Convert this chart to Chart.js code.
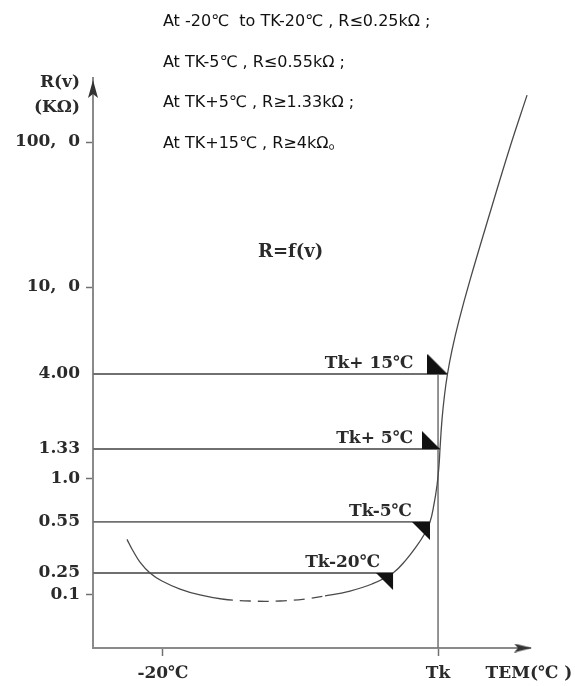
<!DOCTYPE html>
<html>
<head>
<meta charset="utf-8">
<script src="https://cdn.jsdelivr.net/npm/chart.js@4.4.1/dist/chart.umd.min.js"></script>
<style>
  html, body { margin: 0; padding: 0; background: #ffffff; overflow: hidden; }
  canvas { display: block; }
</style>
</head>
<body>
<canvas id="c" width="575" height="686"></canvas>
<script>
// ---------------- data ----------------
const TK = 120;                                  // nominal Curie temperature (schematic)
const xTickValues = [-20, TK];
const xTickLabels = ['-20℃', 'Tk', 'TEM(℃ )'];
const yTickValues = [0.1, 0.25, 0.55, 1.0, 1.33, 4.0, 10, 100];
const yTickLabels = ['0.1', '0.25', '0.55', '1.0', '1.33', '4.00', '10,  0', '100,  0'];
const yTitleLines = ['R(v)', '(KΩ)'];

// R = f(v) curve: temperature (schematic ℃) and resistance (kΩ)
const curveT = [-38.3, -35.2, -31.7, -26.6, -20.5, -11.3, -1.2, 10.0, 24.3, 39.6, 52.3, 62.5, 75.2, 86.4, 97.1,
                103.7, 108.8, 112.8, 115.9, 117.9, 119.5, 120.5, 121.0, 122.0, 123.3, 124.8, 127.1,
                130.7, 136.3, 146.4, 156.6, 165.3];
const curveR = [0.42, 0.351, 0.296, 0.25, 0.179, 0.128, 0.1, 0.084, 0.077, 0.077, 0.084, 0.096, 0.118, 0.158, 0.25,
                0.306, 0.374, 0.45, 0.55, 0.70, 0.92, 1.14, 1.33, 2.04, 2.94, 4.0, 5.15,
                7.06, 11.2, 32.4, 92, 540];
const dashedFrom = 10.0, dashedTo = 62.5;        // dashed (uncertain) part of the curve

// characteristic levels
const levelR = [0.25, 0.55, 1.33, 4.0];
const levelT = [97.1, 115.9, 121.0, 124.8];
const levelLabels = ['Tk-20℃', 'Tk-5℃', 'Tk+ 5℃', 'Tk+ 15℃'];

const notes = [
  'At -20℃  to TK-20℃ , R≤0.25kΩ ;',
  'At TK-5℃ , R≤0.55kΩ ;',
  'At TK+5℃ , R≥1.33kΩ ;',
  'At TK+15℃ , R≥4kΩ。'
];
const curveName = 'R=f(v)';

// ---------------- schematic (piecewise-log) resistance scale ----------------
class WarpScale extends Chart.LinearScale {
  static id = 'warp';
  static defaults = {};
  static anchors = [[0.01, 0], [0.1, 0.093], [0.25, 0.1316], [0.55, 0.2211], [1, 0.2965],
                    [1.33, 0.3491], [4, 0.4807], [10, 0.6333], [100, 0.8877], [1000, 1]];
  determineDataLimits() { this.min = 0.01; this.max = 1000; }
  buildTicks() { return [...yTickValues, 540].map(v => ({ value: v })); }
  _frac(v) {
    const a = WarpScale.anchors, lv = Math.log10(Math.max(v, 1e-6));
    for (let i = 1; i < a.length; i++) {
      const l0 = Math.log10(a[i - 1][0]), l1 = Math.log10(a[i][0]);
      if (lv <= l1 || i === a.length - 1) {
        return a[i - 1][1] + (lv - l0) / (l1 - l0) * (a[i][1] - a[i - 1][1]);
      }
    }
    return 1;
  }
  getPixelForValue(v) { return this.getPixelForDecimal(this._frac(v)); }
  getValueForPixel(p) {
    const f = this.getDecimalForPixel(p), a = WarpScale.anchors;
    for (let i = 1; i < a.length; i++) {
      if (f <= a[i][1] || i === a.length - 1) {
        const l0 = Math.log10(a[i - 1][0]), l1 = Math.log10(a[i][0]);
        return Math.pow(10, l0 + (f - a[i - 1][1]) / (a[i][1] - a[i - 1][1]) * (l1 - l0));
      }
    }
    return this.max;
  }
}
Chart.register(WarpScale);

// ---------------- marker images ----------------
function triangleCanvas(size, below) {
  const c = document.createElement('canvas');
  c.width = size * 2; c.height = size * 2;
  const g = c.getContext('2d');
  g.fillStyle = '#111';
  g.beginPath();
  if (below) { g.moveTo(0, size); g.lineTo(size, size); g.lineTo(size, size * 2); }
  else { g.moveTo(0, 0); g.lineTo(0, size); g.lineTo(size, size); }
  g.closePath(); g.fill();
  return c;
}
function arrowCanvas(dir) {
  const c = document.createElement('canvas');
  const L = 18, W = 5;
  if (dir === 'up') {
    c.width = W * 2; c.height = L * 2 + 4;
    const g = c.getContext('2d'); g.fillStyle = '#333';
    const cy = c.height / 2;
    g.beginPath(); g.moveTo(W, cy + 2); g.lineTo(0, cy + 2 + L); g.lineTo(W, cy + L - 2); g.lineTo(W * 2, cy + 2 + L); g.closePath(); g.fill();
  } else {
    c.width = L * 2 + 4; c.height = W * 2 - 1;
    const g = c.getContext('2d'); g.fillStyle = '#333';
    const cx = c.width / 2, cy = c.height / 2;
    g.beginPath(); g.moveTo(cx + 2, cy); g.lineTo(cx + 2 - L, cy - W + 0.5); g.lineTo(cx - L + 6, cy); g.lineTo(cx + 2 - L, cy + W - 0.5); g.closePath(); g.fill();
  }
  return c;
}
const markerImgs = [triangleCanvas(17, true), triangleCanvas(18, true), triangleCanvas(18, false), triangleCanvas(20, false)];
const arrowImgs = [arrowCanvas('up'), arrowCanvas('right')];

const XMIN = -55.6, XMAX = 166.8, YMIN = 0.01, YMAX = 1000;
const AXIS = '#8a8a8a', LEVEL = '#707070', INK = '#2a2a2a';
const SERIF = '"DejaVu Serif", serif';

// ---------------- text annotations ----------------
const annotate = {
  id: 'annotate',
  afterDatasetsDraw(chart) {
    const { ctx, scales: { x, y } } = chart;
    ctx.save();
    ctx.fillStyle = '#111';
    ctx.textBaseline = 'alphabetic';
    ctx.textAlign = 'left';
    ctx.font = '16px "DejaVu Sans", "Noto Sans CJK SC", sans-serif';
    const nx = x.getPixelForValue(-20);
    notes.forEach((t, i) => ctx.fillText(t, nx, 26 + i * 40.5));

    ctx.fillStyle = INK;
    ctx.font = 'bold 18px ' + SERIF;
    ctx.textAlign = 'center';
    ctx.fillText(curveName, x.getPixelForValue(45), y.getPixelForValue(16));

    ctx.font = 'bold 17px ' + SERIF;
    ctx.textAlign = 'right';
    const offs = [13, 18, 27, 34];
    levelLabels.forEach((t, i) => {
      ctx.fillText(t, x.getPixelForValue(levelT[i]) - offs[i], y.getPixelForValue(levelR[i]) - 6);
    });
    ctx.restore();
  }
};

const datasets = [
  { // corner markers
    data: levelT.map((t, i) => ({ x: t, y: levelR[i] })),
    showLine: false, clip: false,
    pointStyle: ctx => markerImgs[ctx.dataIndex], pointRadius: 10
  },
  { // axis arrow heads
    data: [{ x: XMIN, y: YMAX }, { x: XMAX, y: YMIN }],
    showLine: false, clip: false,
    pointStyle: ctx => arrowImgs[ctx.dataIndex], pointRadius: 10
  },
  { // curve
    data: curveT.map((t, i) => ({ x: t, y: curveR[i] })),
    showLine: true, borderColor: '#4a4a4a', borderWidth: 1.3, pointRadius: 0,
    tension: 0.4,
    segment: {
      borderDash: ctx => (curveT[ctx.p0DataIndex] >= dashedFrom && curveT[ctx.p1DataIndex] <= dashedTo) ? [11, 7] : undefined
    }
  },
  ...levelR.map((r, i) => ({
    data: [{ x: XMIN, y: r }, { x: levelT[i], y: r }],
    showLine: true, borderColor: LEVEL, borderWidth: 1.8, pointRadius: 0
  })),
  { // Tk vertical line
    data: [{ x: TK, y: levelR[3] }, { x: TK, y: YMIN }],
    showLine: true, borderColor: LEVEL, borderWidth: 1.5, pointRadius: 0
  }
];

new Chart(document.getElementById('c'), {
  type: 'scatter',
  data: { datasets },
  plugins: [annotate],
  options: {
    responsive: false,
    animation: false,
    devicePixelRatio: 1,
    layout: { padding: { top: 78, right: 45, bottom: 0, left: 0 } },
    plugins: { legend: { display: false }, tooltip: { enabled: false } },
    events: [],
    scales: {
      x: {
        type: 'linear', min: XMIN, max: XMAX,
        afterBuildTicks: s => { s.ticks = [...xTickValues, 166.3].map(v => ({ value: v })); },
        afterFit: s => { s.height = 38; s.paddingLeft = 0; s.paddingRight = 0; },
        ticks: {
          autoSkip: false, maxRotation: 0, minRotation: 0, padding: 7, color: INK,
          font: { family: SERIF, size: 17, weight: 'bold' },
          callback: (v, i) => xTickLabels[i]
        },
        grid: {
          drawOnChartArea: false, drawTicks: true, tickLength: 8, tickWidth: 1.5,
          tickColor: c => (c.index < xTickValues.length ? LEVEL : 'rgba(0,0,0,0)')
        },
        border: { display: true, color: AXIS, width: 2 }
      },
      y: {
        type: 'warp',
        afterFit: s => { s.width = 93; s.paddingTop = 0; s.paddingBottom = 0; },
        ticks: {
          autoSkip: false, padding: 6, color: INK,
          font: { family: SERIF, size: 17, weight: 'bold', lineHeight: 1.45 },
          callback: (v, i) => (i < yTickLabels.length ? yTickLabels[i] : yTitleLines)
        },
        grid: {
          drawOnChartArea: false, drawTicks: true, tickLength: 7, tickWidth: 1.5,
          tickColor: c => (c.tick && yTickValues.includes(c.tick.value) && !levelR.includes(c.tick.value)) ? LEVEL : 'rgba(0,0,0,0)'
        },
        border: { display: true, color: AXIS, width: 2 }
      }
    }
  }
});
</script>
</body>
</html>
